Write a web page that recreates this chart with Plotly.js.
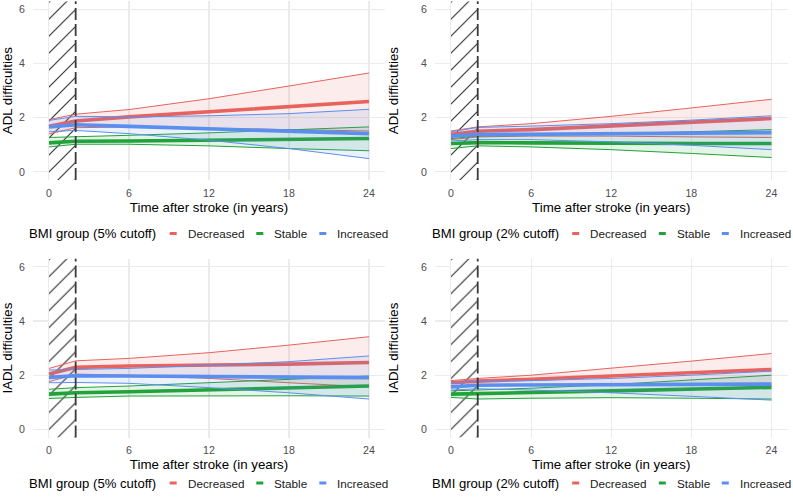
<!DOCTYPE html>
<html><head><meta charset="utf-8">
<script src="https://cdn.plot.ly/plotly-3.0.1.min.js"></script>
<style>html,body{margin:0;padding:0;background:#fff}#chart{width:793px;height:500px}</style>
</head><body><div id="chart"></div>
<script>
// ---- data ----
const years = [0, 2, 6, 12, 18, 24];
const groups = ['Decreased', 'Stable', 'Increased'];
const xTicks = [0, 6, 12, 18, 24];
const yTicks = [0, 2, 4, 6];
const xTitle = 'Time after stroke (in years)';
const yTitles = ['ADL difficulties', 'ADL difficulties', 'IADL difficulties', 'IADL difficulties'];
const legendTitles = ['BMI group (5% cutoff)', 'BMI group (2% cutoff)', 'BMI group (5% cutoff)', 'BMI group (2% cutoff)'];
const washoutEnd = 2;

// ADL, 5% cutoff
const adl5DecMean = [1.68, 1.88, 2.03, 2.21, 2.40, 2.60];
const adl5DecLow  = [1.40, 1.63, 1.66, 1.61, 1.56, 1.51];
const adl5DecHigh = [1.93, 2.13, 2.30, 2.70, 3.17, 3.65];
const adl5StaMean = [1.07, 1.13, 1.14, 1.17, 1.19, 1.23];
const adl5StaLow  = [0.92, 1.02, 1.02, 0.96, 0.86, 0.78];
const adl5StaHigh = [1.27, 1.29, 1.35, 1.44, 1.54, 1.66];
const adl5IncMean = [1.66, 1.74, 1.68, 1.60, 1.51, 1.41];
const adl5IncLow  = [1.48, 1.53, 1.41, 1.17, 0.86, 0.49];
const adl5IncHigh = [1.90, 2.05, 2.03, 2.07, 2.15, 2.31];
// ADL, 2% cutoff
const adl2DecMean = [1.39, 1.50, 1.56, 1.69, 1.85, 1.97];
const adl2DecLow  = [1.19, 1.29, 1.32, 1.32, 1.29, 1.27];
const adl2DecHigh = [1.51, 1.66, 1.78, 2.05, 2.36, 2.68];
const adl2StaMean = [1.05, 1.08, 1.07, 1.05, 1.05, 1.05];
const adl2StaLow  = [0.86, 0.96, 0.92, 0.82, 0.68, 0.53];
const adl2StaHigh = [1.23, 1.32, 1.35, 1.41, 1.48, 1.56];
const adl2IncMean = [1.32, 1.38, 1.39, 1.41, 1.44, 1.45];
const adl2IncLow  = [1.14, 1.19, 1.19, 1.11, 0.98, 0.82];
const adl2IncHigh = [1.48, 1.64, 1.69, 1.78, 1.91, 2.07];
// IADL, 5% cutoff
const iadl5DecMean = [2.04, 2.29, 2.34, 2.37, 2.41, 2.47];
const iadl5DecLow  = [1.76, 2.04, 2.00, 1.88, 1.72, 1.57];
const iadl5DecHigh = [2.25, 2.53, 2.62, 2.83, 3.11, 3.42];
const iadl5StaMean = [1.30, 1.35, 1.39, 1.45, 1.54, 1.60];
const iadl5StaLow  = [1.14, 1.18, 1.23, 1.24, 1.24, 1.23];
const iadl5StaHigh = [1.48, 1.54, 1.60, 1.72, 1.85, 1.97];
const iadl5IncMean = [1.92, 1.98, 1.97, 1.94, 1.92, 1.91];
const iadl5IncLow  = [1.72, 1.73, 1.70, 1.54, 1.35, 1.12];
const iadl5IncHigh = [2.19, 2.21, 2.25, 2.37, 2.50, 2.71];
// IADL, 2% cutoff
const iadl2DecMean = [1.72, 1.78, 1.85, 1.97, 2.09, 2.21];
const iadl2DecLow  = [1.55, 1.62, 1.66, 1.66, 1.64, 1.62];
const iadl2DecHigh = [1.80, 1.88, 2.00, 2.25, 2.52, 2.80];
const iadl2StaMean = [1.30, 1.31, 1.36, 1.42, 1.50, 1.55];
const iadl2StaLow  = [1.18, 1.12, 1.15, 1.17, 1.15, 1.12];
const iadl2StaHigh = [1.42, 1.45, 1.52, 1.65, 1.82, 2.00];
const iadl2IncMean = [1.57, 1.63, 1.64, 1.65, 1.66, 1.67];
const iadl2IncLow  = [1.45, 1.50, 1.45, 1.35, 1.22, 1.08];
const iadl2IncHigh = [1.72, 1.78, 1.80, 1.88, 2.00, 2.15];

// ---- styling ----
const colors = ['#E8625E', '#21A33A', '#5B8FEF'];
const fills = ['rgba(232,98,94,0.12)', 'rgba(33,163,58,0.12)', 'rgba(91,143,239,0.12)'];
const font = 'Liberation Sans, Arial, sans-serif';
const xRange = [-1.2, 25.2];
const yRange = [-0.3, 6.3];

const panelData = [
  [[adl5DecLow, adl5DecMean, adl5DecHigh], [adl5StaLow, adl5StaMean, adl5StaHigh], [adl5IncLow, adl5IncMean, adl5IncHigh]],
  [[adl2DecLow, adl2DecMean, adl2DecHigh], [adl2StaLow, adl2StaMean, adl2StaHigh], [adl2IncLow, adl2IncMean, adl2IncHigh]],
  [[iadl5DecLow, iadl5DecMean, iadl5DecHigh], [iadl5StaLow, iadl5StaMean, iadl5StaHigh], [iadl5IncLow, iadl5IncMean, iadl5IncHigh]],
  [[iadl2DecLow, iadl2DecMean, iadl2DecHigh], [iadl2StaLow, iadl2StaMean, iadl2StaHigh], [iadl2IncLow, iadl2IncMean, iadl2IncHigh]]
];

const W = 793, H = 500;
const xDomains = [[33 / W, 385 / W], [435 / W, 787.5 / W], [33 / W, 385 / W], [435 / W, 787.5 / W]];
const yDomains = [[1 - 180 / H, 1 - 1.2 / H], [1 - 180 / H, 1 - 1.2 / H], [1 - 437.5 / H, 1 - 258.7 / H], [1 - 437.5 / H, 1 - 258.7 / H]];
// legend layout (pixels): left edge of the legend title per column, vertical centre per row,
// and left edge of each item label relative to the title start
const legendLeft = [29, 431.5];
const legendMid = [233.5, 483];
const itemTextOffset = [158.7, 245.3, 308.3];
const swatchGap = 14.5, swatchHalf = 3.5;

const traces = [];
const layout = {
  width: W, height: H,
  margin: {l: 0, r: 0, t: 0, b: 0},
  paper_bgcolor: '#fff', plot_bgcolor: '#fff',
  font: {family: font, color: '#1a1a1a'},
  showlegend: false,
  shapes: [], annotations: []
};

panelData.forEach((panel, p) => {
  const sfx = p === 0 ? '' : String(p + 1);
  const xa = 'x' + sfx, ya = 'y' + sfx;

  // hatched washout window
  traces.push({
    type: 'bar', xaxis: xa, yaxis: ya,
    x: [washoutEnd / 2], width: [washoutEnd],
    base: [yRange[0]], y: [yRange[1] - yRange[0]],
    marker: {color: 'rgba(0,0,0,0)', line: {width: 0},
      pattern: {shape: '/', fgcolor: '#2a2a2a', bgcolor: '#ffffff', size: 12, solidity: 0.09}},
    showlegend: false, hoverinfo: 'skip'
  });

  panel.forEach((g, gi) => {
    const [low, mean, high] = g;
    traces.push({x: years, y: low, xaxis: xa, yaxis: ya, mode: 'lines',
      line: {color: colors[gi], width: 1}, showlegend: false, hoverinfo: 'skip'});
    traces.push({x: years, y: high, xaxis: xa, yaxis: ya, mode: 'lines', fill: 'tonexty',
      fillcolor: fills[gi], line: {color: colors[gi], width: 1}, showlegend: false, hoverinfo: 'skip'});
    traces.push({x: years, y: mean, xaxis: xa, yaxis: ya, mode: 'lines', name: groups[gi],
      line: {color: colors[gi], width: 3.6}, showlegend: false});
  });

  layout['xaxis' + sfx] = {
    domain: xDomains[p], anchor: ya, range: xRange, tickvals: xTicks,
    showgrid: true, gridcolor: '#EBEBEB', gridwidth: 1.1, zeroline: false, showline: false,
    ticks: 'outside', ticklen: 3, tickcolor: 'rgba(0,0,0,0)',
    tickfont: {family: font, size: 10.6, color: '#4D4D4D'},
    title: {text: xTitle, font: {family: font, size: 13.3, color: '#000'}, standoff: 4},
    fixedrange: true
  };
  layout['yaxis' + sfx] = {
    domain: yDomains[p], anchor: xa, range: yRange, tickvals: yTicks,
    showgrid: true, gridcolor: '#EBEBEB', gridwidth: 1.1, zeroline: false, showline: false,
    ticks: 'outside', ticklen: 5, tickcolor: 'rgba(0,0,0,0)',
    tickfont: {family: font, size: 10.6, color: '#4D4D4D'},
    title: {text: yTitles[p], font: {family: font, size: 13.3, color: '#000'}},
    fixedrange: true
  };

  // legend for this panel: title + one swatch and label per BMI group
  const col = p % 2, row = Math.floor(p / 2);
  const left = legendLeft[col], mid = 1 - legendMid[row] / H;
  layout.annotations.push({
    xref: 'paper', yref: 'paper', x: left / W, y: mid, xanchor: 'left', yanchor: 'middle',
    text: legendTitles[p], showarrow: false, borderpad: 0, borderwidth: 0,
    font: {family: font, size: 13.1, color: '#000'}
  });
  groups.forEach((name, gi) => {
    const tx = left + itemTextOffset[gi];
    layout.annotations.push({
      xref: 'paper', yref: 'paper', x: tx / W, y: mid, xanchor: 'left', yanchor: 'middle',
      text: name, showarrow: false, borderpad: 0, borderwidth: 0,
      font: {family: font, size: 11.7, color: '#1a1a1a'}
    });
    const cx = tx - swatchGap;
    layout.shapes.push({
      type: 'line', xref: 'paper', yref: 'paper', x0: (cx - swatchHalf) / W, x1: (cx + swatchHalf) / W,
      y0: mid, y1: mid, line: {color: colors[gi], width: 3}
    });
  });

  layout.shapes.push({
    type: 'line', xref: xa, yref: ya + ' domain', x0: washoutEnd, x1: washoutEnd, y0: 0, y1: 1,
    line: {color: '#3a3a3a', width: 1.8, dash: '12px,4px'}, layer: 'above'
  });
});

Plotly.newPlot('chart', traces, layout, {staticPlot: true, displayModeBar: false});
</script></body></html>
